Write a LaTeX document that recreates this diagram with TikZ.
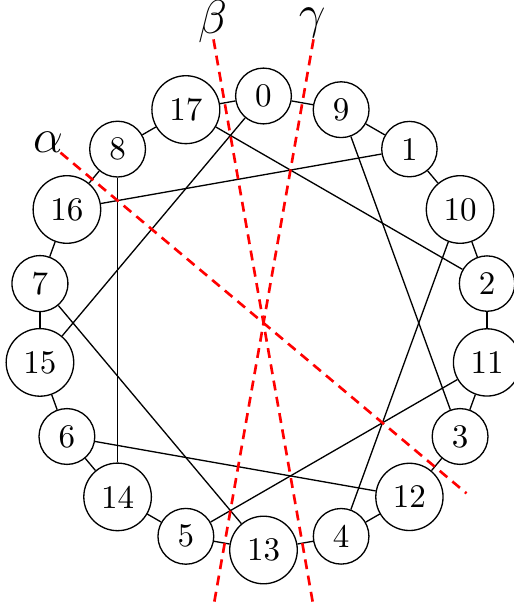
\documentclass[tikz,border=0pt]{standalone}
\begin{document}
\begin{tikzpicture}[x=0.30303pt,y=0.30303pt,
  vtx/.style={draw,circle,inner sep=3pt,line width=0.4pt},
  edge/.style={line width=0.4pt},
  axis/.style={red,densely dashed,thick},
  lbl/.style={font=\Large,inner sep=0pt}]
\useasboundingbox (-263.5,-290) rectangle (250.5,323);
\foreach \n [count=\i from 0] in {0,9,1,10,2,11,3,12,4,13,5,14,6,15,7,16,8,17}
  \node[vtx] (v\n) at ({90-20*\i}:227) {\n};
\foreach \a/\b in {0/9,9/1,1/10,10/2,2/11,11/3,3/12,12/4,4/13,13/5,5/14,14/6,6/15,15/7,7/16,16/8,8/17,17/0}
  \draw[edge] (v\a) -- (v\b);
\foreach \a/\b in {0/15,17/2,9/3,1/16,10/4,11/5,12/6,13/7,14/8}
  \draw[edge] (v\a) -- (v\b);
\coordinate (a1) at (140:265);
\coordinate (a2) at (-40:265);
\coordinate (b1) at (100:288);
\coordinate (b2) at (280:288);
\coordinate (g1) at (80:288);
\coordinate (g2) at (260:288);
\draw[axis] (a1) -- (a2);
\draw[axis] (b1) -- (b2);
\draw[axis] (g1) -- (g2);
\node[lbl] (la) at (-215.5,181) {$\alpha$};
\node[lbl] (lb) at (-51,301.5) {$\beta$};
\node[lbl] (lg) at (48.8,300.5) {$\gamma$};
\end{tikzpicture}
\end{document}
